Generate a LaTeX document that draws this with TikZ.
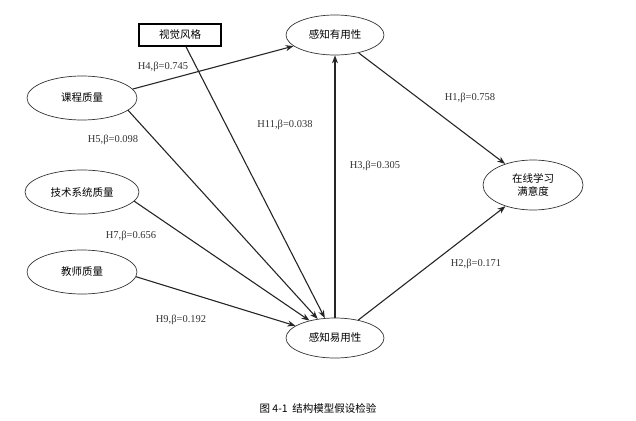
\documentclass[tikz,border=0pt]{standalone}
\usepackage{fontspec}
\setmainfont{Liberation Serif}
\newfontfamily\cjk{Noto Sans CJK SC}
\usetikzlibrary{shapes.geometric,arrows.meta}

\tikzset{
  latent/.style={ellipse, draw=black!80, line width=0.7pt, font=\cjk\fontsize{10.5}{12.5}\selectfont, align=center},
  observed/.style={rectangle, draw, line width=1.2pt, font=\cjk\fontsize{10.5}{12.5}\selectfont},
  path/.style={-{Stealth[length=8pt,width=6pt]}, line width=1.1pt, draw=black!85},
  coef/.style={font=\fontsize{10.5}{12.5}\selectfont, text=black!80}
}

\begin{document}
\begin{tikzpicture}[x=1pt,y=-1pt]
  \useasboundingbox (0,0) rectangle (636,420);
  % constructs
  \node[observed, minimum width=82, minimum height=22] (style) at (180,35) {视觉风格};
  \node[latent, minimum width=98, minimum height=40] (useful) at (335,35) {感知有用性};
  \node[latent, minimum width=110, minimum height=44] (course) at (82,98) {课程质量};
  \node[latent, minimum width=114, minimum height=44] (tech) at (82,192) {技术系统质量};
  \node[latent, minimum width=110, minimum height=44] (teacher) at (82,272) {教师质量};
  \node[latent, minimum width=98, minimum height=40] (ease) at (335,338) {感知易用性};
  \node[latent, minimum width=100, minimum height=50] (satis) at (533,185) {在线学习\\满意度};
  % paths
  \draw[path] (course.10) -- (useful);
  \draw[path] (course.-15) -- (ease);
  \draw[path] (style) -- (ease);
  \draw[path] (tech.-10) -- (ease);
  \draw[path] (teacher.-5) -- (ease);
  \draw[path] (ease) -- (useful);
  \draw[path] (useful) -- (satis);
  \draw[path] (ease) -- (satis);
  % coefficients
  \node[coef] (h4) at (163,67) {H4,β=0.745};
  \node[coef] (h5) at (113,140) {H5,β=0.098};
  \node[coef] (h11) at (285,125) {H11,β=0.038};
  \node[coef] (h3) at (375,166) {H3,β=0.305};
  \node[coef] (h1) at (470,98) {H1,β=0.758};
  \node[coef] (h7) at (131,236) {H7,β=0.656};
  \node[coef] (h2) at (476,264) {H2,β=0.171};
  \node[coef] (h9) at (181,320) {H9,β=0.192};
  % caption
  \node[font=\cjk\fontsize{10.5}{12.5}\selectfont] (cap) at (318,408) {图 4-1\ \ 结构模型假设检验};
\end{tikzpicture}
\end{document}
